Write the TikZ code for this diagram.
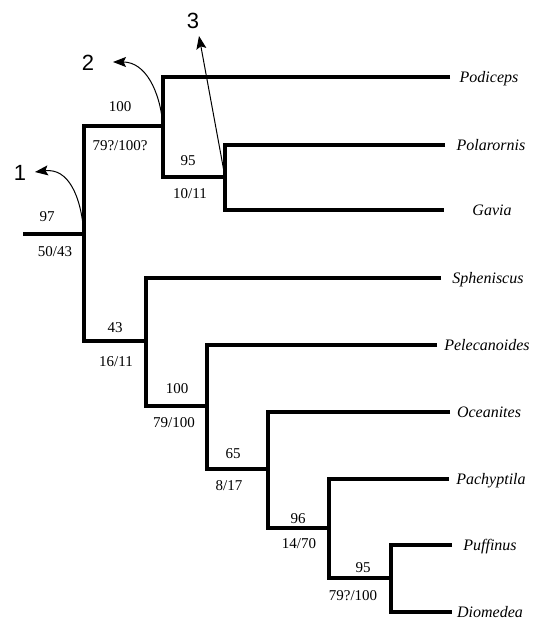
\documentclass[tikz,border=0pt]{standalone}
\usepackage{fontspec}
\setmainfont{Liberation Serif}
\newfontfamily\cladefont{Liberation Sans}
\usetikzlibrary{arrows.meta}

\begin{document}
\begin{tikzpicture}[x=1pt,y=-1pt,
  branch/.style={line width=4pt, line join=miter},
  taxon/.style={font=\fontsize{16}{18}\selectfont\itshape, inner sep=0pt,
    text height=10.5pt, text depth=0pt},
  support/.style={font=\fontsize{15}{18}\selectfont, inner sep=0pt,
    text height=10pt, text depth=0pt},
  clade/.style={font=\cladefont\fontsize{22}{26}\selectfont, inner sep=0pt,
    text height=16pt, text depth=0pt},
  pointer/.style={line width=1pt, -{Stealth[length=13pt,width=10pt,inset=2.5pt]}}]

\useasboundingbox (0,0) rectangle (536,621);

% internal nodes of the tree
\coordinate (root) at (23,234);
\coordinate (n1) at (84,234);
\coordinate (n2) at (163,126);
\coordinate (n3) at (225,177);
\coordinate (n4) at (146,341);
\coordinate (n5) at (207,406);
\coordinate (n6) at (268,469);
\coordinate (n7) at (329,528);
\coordinate (n8) at (391,578);

% branch tips
\coordinate (tPodiceps) at (450,77);
\coordinate (tPolarornis) at (445,145);
\coordinate (tGavia) at (444,210);
\coordinate (tSpheniscus) at (441,278);
\coordinate (tPelecanoides) at (437,345);
\coordinate (tOceanites) at (450,412);
\coordinate (tPachyptila) at (449,479);
\coordinate (tPuffinus) at (452,545);
\coordinate (tDiomedea) at (452,612);

% taxon names
\node[taxon] (podiceps) at (489,77) {Podiceps};
\node[taxon] (polarornis) at (491,145) {Polarornis};
\node[taxon] (gavia) at (492,210) {Gavia};
\node[taxon] (spheniscus) at (488,278) {Spheniscus};
\node[taxon] (pelecanoides) at (487,345) {Pelecanoides};
\node[taxon] (oceanites) at (489,412) {Oceanites};
\node[taxon] (pachyptila) at (491,479) {Pachyptila};
\node[taxon] (puffinus) at (490,545) {Puffinus};
\node[taxon] (diomedea) at (490,612) {Diomedea};

% branches
\draw[branch] (root) -- (n1);
\draw[branch] (n2) -| (n1) |- (n4);
\draw[branch] (tPodiceps) -| (n2) |- (n3);
\draw[branch] (tPolarornis) -| (n3) |- (tGavia);
\draw[branch] (tSpheniscus) -| (n4) |- (n5);
\draw[branch] (tPelecanoides) -| (n5) |- (n6);
\draw[branch] (tOceanites) -| (n6) |- (n7);
\draw[branch] (tPachyptila) -| (n7) |- (n8);
\draw[branch] (tPuffinus) -| (n8) |- (tDiomedea);

% support values
\node[support] (s1a) at (47,216) {97};
\node[support] (s1b) at (55,251) {50/43};
\node[support] (s2a) at (120,106) {100};
\node[support] (s2b) at (120,145) {79?/100?};
\node[support] (s3a) at (188,160) {95};
\node[support] (s3b) at (190,193) {10/11};
\node[support] (s4a) at (115,327) {43};
\node[support] (s4b) at (116,361) {16/11};
\node[support] (s5a) at (177,388) {100};
\node[support] (s5b) at (174,422) {79/100};
\node[support] (s6a) at (233,453) {65};
\node[support] (s6b) at (229,485) {8/17};
\node[support] (s7a) at (298,518) {96};
\node[support] (s7b) at (299,543) {14/70};
\node[support] (s8a) at (363,567) {95};
\node[support] (s8b) at (353,595) {79?/100};

% clade markers and their pointers
\node[clade] (c1) at (20,172) {1};
\node[clade] (c2) at (88,62) {2};
\node[clade] (c3) at (193,20) {3};
\coordinate (p1) at (35,172);
\coordinate (p2) at (113,62);
\coordinate (p3) at (199,36);

\draw[pointer] (n1) .. controls (81,195) and (68,168) .. (p1);
\draw[pointer] (n2) .. controls (160,90) and (145,62) .. (p2);
\draw[pointer] (n3) -- (p3);

\end{tikzpicture}
\end{document}
